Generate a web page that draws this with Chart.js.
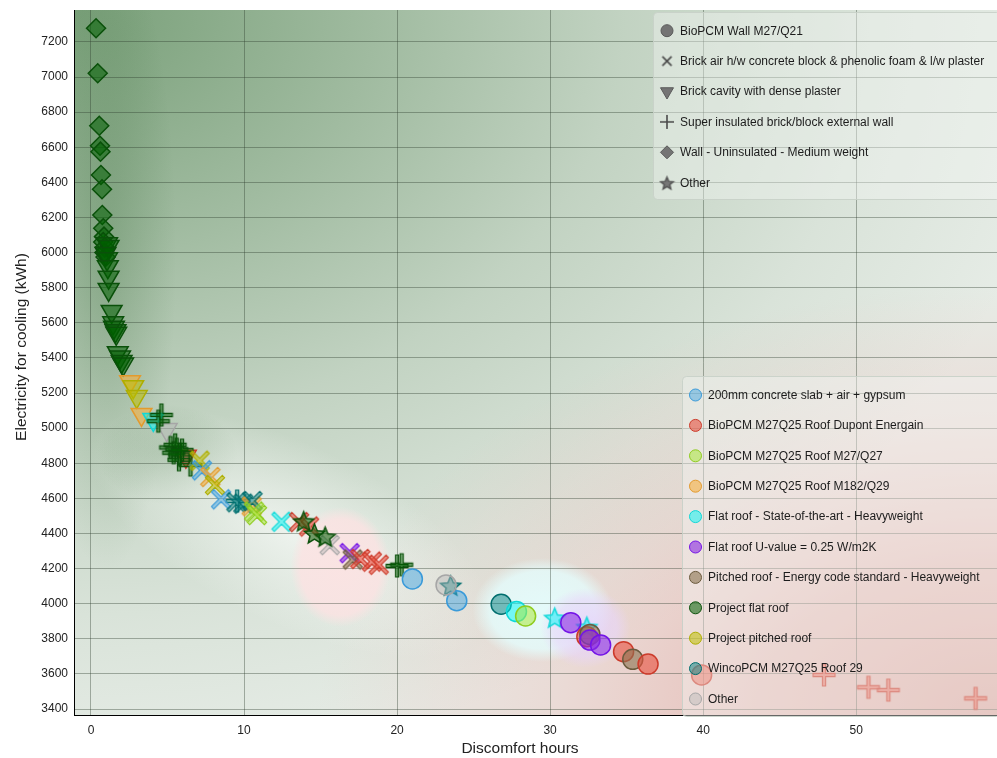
<!DOCTYPE html>
<html>
<head>
<meta charset="utf-8">
<script src="https://cdn.jsdelivr.net/npm/chart.js@4.4.1/dist/chart.umd.min.js"></script>
<style>
  html, body { margin: 0; padding: 0; background: #fff; }
  canvas { display: block; }
</style>
</head>
<body>
<canvas id="chart" width="997" height="758"></canvas>
<script>
// colour = roof construction
const roofTypes = [
  '200mm concrete slab + air + gypsum',
  'BioPCM M27Q25 Roof Dupont Energain',
  'BioPCM M27Q25 Roof M27/Q27',
  'BioPCM M27Q25 Roof M182/Q29',
  'Flat roof - State-of-the-art - Heavyweight',
  'Flat roof U-value = 0.25 W/m2K',
  'Pitched roof - Energy code standard - Heavyweight',
  'Project flat roof',
  'Project pitched roof',
  'WincoPCM M27Q25 Roof 29',
  'Other'
];
const roofColors = [
  ['#3a9ad9', 'rgba(70,165,225,0.5)'],
  ['#cc3b2b', 'rgba(232,80,62,0.6)'],
  ['#8fcc1f', 'rgba(170,232,60,0.55)'],
  ['#e39a2d', 'rgba(245,175,65,0.6)'],
  ['#10d8d8', 'rgba(0,245,245,0.5)'],
  ['#7414e6', 'rgba(138,43,226,0.6)'],
  ['#6b5b3e', 'rgba(139,115,80,0.6)'],
  ['#0a500a', 'rgba(0,95,0,0.55)'],
  ['#aeae00', 'rgba(190,190,0,0.55)'],
  ['#006e6e', 'rgba(0,125,125,0.5)'],
  ['#a6a6a6', 'rgba(185,185,185,0.45)']
];

// shape = wall construction
const wallTypes = [
  'BioPCM Wall M27/Q21',
  'Brick air h/w concrete block & phenolic foam & l/w plaster',
  'Brick cavity with dense plaster',
  'Super insulated brick/block external wall',
  'Wall - Uninsulated - Medium weight',
  'Other'
];

const xTicks = [0, 10, 20, 30, 40, 50];
const yTicks = [3400, 3600, 3800, 4000, 4200, 4400, 4600, 4800, 5000, 5200,
  5400, 5600, 5800, 6000, 6200, 6400, 6600, 6800, 7000, 7200];

// rows: [discomfort hours, electricity for cooling kWh, roof index]
const bioWall = [
  [21.0, 4141, 0], [23.9, 4017, 0], [23.2, 4107, 10], [26.8, 3997, 9],
  [27.8, 3955, 4], [28.4, 3930, 2], [31.35, 3892, 5], [32.4, 3812, 1],
  [32.6, 3825, 6], [32.6, 3793, 5], [33.3, 3765, 5], [34.8, 3727, 1],
  [35.4, 3683, 6], [36.4, 3656, 1], [39.9, 3594, 1]
];
const brickAir = [
  [7.1, 4815, 8], [7.25, 4760, 0], [7.8, 4722, 3], [8.1, 4676, 8],
  [8.5, 4595, 0], [9.5, 4578, 9], [9.95, 4570, 9], [10.5, 4555, 3],
  [10.55, 4585, 9], [10.65, 4525, 2], [10.85, 4505, 2], [12.45, 4467, 4],
  [13.6, 4465, 1], [14.25, 4440, 1], [15.6, 4334, 10], [16.9, 4288, 5],
  [17.1, 4252, 6], [17.6, 4255, 1], [18.35, 4240, 1], [18.8, 4222, 1]
];
const brickCavity = [
  [1.05, 6050, 7], [1.15, 6035, 7], [0.95, 5995, 7], [1.05, 5965, 7],
  [1.1, 5920, 7], [1.15, 5860, 7], [1.15, 5790, 7], [1.35, 5665, 7],
  [1.45, 5600, 7], [1.5, 5575, 7], [1.6, 5555, 7], [1.65, 5540, 7],
  [1.75, 5430, 7], [1.9, 5405, 7], [2.0, 5380, 7], [2.1, 5365, 7],
  [2.55, 5265, 3], [2.76, 5236, 8], [2.99, 5180, 8], [3.3, 5078, 3],
  [4.07, 5050, 4], [4.95, 4992, 10], [6.2, 4840, 1]
];
const superInsulated = [
  [4.4, 5040, 7], [4.6, 5075, 7], [5.2, 4890, 7], [5.4, 4860, 7],
  [5.5, 4905, 7], [5.6, 4880, 7], [5.75, 4820, 7], [5.8, 4850, 7],
  [5.95, 4875, 7], [6.5, 4790, 7], [9.55, 4585, 9], [20.0, 4215, 7],
  [20.3, 4222, 7], [47.9, 3594, 1], [50.8, 3524, 1], [52.1, 3508, 1],
  [57.8, 3461, 1]
];
const uninsulated = [
  [0.33, 7278, 7], [0.44, 7022, 7], [0.54, 6723, 7], [0.59, 6609, 7],
  [0.62, 6575, 7], [0.65, 6442, 7], [0.72, 6361, 7], [0.74, 6214, 7],
  [0.80, 6139, 7], [0.85, 6091, 7], [0.80, 6060, 7], [0.90, 6030, 7],
  [0.88, 6000, 7], [0.95, 5975, 7]
];
const otherWall = [
  [13.9, 4470, 7], [14.6, 4400, 7], [15.3, 4382, 7], [23.5, 4103, 9],
  [30.3, 3920, 4], [32.4, 3868, 4]
];

const FONT = '"Liberation Sans", Arial, sans-serif';
const TITLE_FONT = '15.5px ' + FONT;

function starCanvas(fill, stroke, r) {
  const s = Math.ceil(r * 2 + 4);
  const c = document.createElement('canvas');
  c.width = c.height = s;
  const g = c.getContext('2d');
  g.translate(s / 2, s / 2 + 1);
  g.beginPath();
  for (let i = 0; i < 10; i++) {
    const a = -Math.PI / 2 + i * Math.PI / 5;
    const rr = i % 2 ? r * 0.45 : r;
    g.lineTo(Math.cos(a) * rr, Math.sin(a) * rr);
  }
  g.closePath();
  g.fillStyle = fill; g.fill();
  g.lineWidth = 1.5; g.strokeStyle = stroke; g.stroke();
  return c;
}

function crossCanvas(fill, stroke, r, rotated, w) {
  const s = Math.ceil(r * 2 + 4);
  const c = document.createElement('canvas');
  c.width = c.height = s;
  const g = c.getContext('2d');
  g.translate(s / 2, s / 2);
  if (rotated) g.rotate(Math.PI / 4);
  const pts = [[-w, -r], [w, -r], [w, -w], [r, -w], [r, w], [w, w], [w, r], [-w, r], [-w, w], [-r, w], [-r, -w], [-w, -w]];
  g.beginPath();
  pts.forEach(p => g.lineTo(p[0], p[1]));
  g.closePath();
  g.fillStyle = fill; g.fill();
  g.lineWidth = 1.1; g.strokeStyle = stroke; g.stroke();
  return c;
}

function lineCross(color, r, rotated) {
  const s = Math.ceil(r * 2 + 4);
  const c = document.createElement('canvas');
  c.width = c.height = s;
  const g = c.getContext('2d');
  g.translate(s / 2, s / 2);
  if (rotated) g.rotate(Math.PI / 4);
  g.beginPath();
  g.moveTo(-r, 0); g.lineTo(r, 0); g.moveTo(0, -r); g.lineTo(0, r);
  g.lineWidth = 1.6; g.strokeStyle = color; g.stroke();
  return c;
}

const stars = roofColors.map(c => starCanvas(c[1], c[0], 10.5));
const xMarks = roofColors.map(c => crossCanvas(c[1], c[0], 12, true, 1.6));
const plusMarks = roofColors.map(c => crossCanvas(c[1], c[0], 11, false, 1.6));

function makeDataset(label, rows, shape, radius) {
  const styleFor = roof => {
    if (shape === 'star') return stars[roof];
    if (shape === 'x') return xMarks[roof];
    if (shape === 'plus') return plusMarks[roof];
    return shape;
  };
  return {
    label: label,
    data: rows.map(r => ({ x: r[0], y: r[1], roof: r[2] })),
    pointStyle: ctx => ctx.raw ? styleFor(ctx.raw.roof) : 'circle',
    pointRotation: shape === 'triangle' ? 180 : 0,
    pointRadius: radius,
    pointBorderWidth: 1.5,
    pointBackgroundColor: ctx => ctx.raw ? roofColors[ctx.raw.roof][1] : '#888',
    pointBorderColor: ctx => ctx.raw ? roofColors[ctx.raw.roof][0] : '#555'
  };
}

function blob(ctx, cx, cy, rx, ry, stops, rot) {
  ctx.save();
  ctx.translate(cx, cy);
  if (rot) ctx.rotate(rot);
  ctx.scale(1, ry / rx);
  const g = ctx.createRadialGradient(0, 0, 0, 0, 0, rx);
  stops.forEach(s => g.addColorStop(s[0], s[1]));
  ctx.fillStyle = g;
  ctx.fillRect(-rx, -rx, rx * 2, rx * 2);
  ctx.restore();
}

const backdrop = {
  id: 'backdrop',
  beforeDraw(chart) {
    const { ctx, chartArea: a, scales: { x, y } } = chart;
    ctx.save();
    ctx.beginPath();
    ctx.rect(a.left, a.top, a.width, a.height);
    ctx.clip();
    ctx.fillStyle = '#e6ece6';
    ctx.fillRect(a.left, a.top, a.width, a.height);
    // green density, upper left
    blob(ctx, a.left, a.top, 1000, 760, [
      [0, 'rgba(90,138,90,0.78)'], [0.3, 'rgba(90,138,90,0.5)'],
      [0.55, 'rgba(90,138,90,0.26)'], [0.8, 'rgba(90,138,90,0.09)'], [1, 'rgba(90,138,90,0)']
    ]);
    blob(ctx, x.getPixelForValue(1), y.getPixelForValue(6000), 70, 320, [
      [0, 'rgba(60,110,60,0.3)'], [1, 'rgba(60,110,60,0)']
    ]);
    blob(ctx, x.getPixelForValue(5), y.getPixelForValue(4850), 70, 50, [
      [0, 'rgba(70,120,70,0.3)'], [1, 'rgba(70,120,70,0)']
    ]);
    // light band along the curve
    blob(ctx, x.getPixelForValue(13), y.getPixelForValue(4400), 220, 90, [
      [0, 'rgba(246,249,246,0.75)'], [1, 'rgba(246,249,246,0)']
    ], 0.45);
    // red density, lower right
    blob(ctx, a.right, a.bottom, 680, 430, [
      [0, 'rgba(215,120,112,0.58)'], [0.35, 'rgba(230,130,125,0.42)'],
      [0.65, 'rgba(250,150,150,0.2)'], [1, 'rgba(255,160,160,0)']
    ]);
    blob(ctx, x.getPixelForValue(16.3), y.getPixelForValue(4209), 50, 60, [
      [0, 'rgba(252,226,226,0.9)'], [0.8, 'rgba(252,226,226,0.8)'], [1, 'rgba(252,226,226,0)']
    ]);
    blob(ctx, x.getPixelForValue(29.5), y.getPixelForValue(3964), 70, 52, [
      [0, 'rgba(228,252,252,0.95)'], [0.75, 'rgba(228,252,252,0.8)'], [1, 'rgba(228,252,252,0)']
    ]);
    blob(ctx, x.getPixelForValue(32.3), y.getPixelForValue(3862), 45, 40, [
      [0, 'rgba(230,210,252,0.85)'], [0.7, 'rgba(232,214,250,0.6)'], [1, 'rgba(232,214,250,0)']
    ]);
    ctx.restore();
  }
};

function legendBox(ctx, left, top, right, bottom) {
  ctx.save();
  ctx.beginPath();
  ctx.roundRect(left + 0.5, top + 0.5, right - left, bottom - top, 4);
  ctx.fillStyle = 'rgba(242,246,242,0.42)';
  ctx.fill();
  ctx.strokeStyle = 'rgba(200,208,200,0.9)';
  ctx.lineWidth = 1;
  ctx.stroke();
  ctx.restore();
}

const legends = {
  id: 'legends',
  afterDatasetsDraw(chart) {
    const ctx = chart.ctx;
    const H = Chart.helpers;
    // wall legend
    legendBox(ctx, 653, 12, 1000, 199);
    const shapes = [
      { pointStyle: 'circle', radius: 6, rotation: 0 },
      { pointStyle: lineCross('#4a4a4a', 6.5, true), radius: 6, rotation: 0 },
      { pointStyle: 'triangle', radius: 7.5, rotation: 180 },
      { pointStyle: lineCross('#4a4a4a', 7, false), radius: 6, rotation: 0 },
      { pointStyle: 'rectRot', radius: 6.5, rotation: 0 },
      { pointStyle: starCanvas('#777', '#555', 6.5), radius: 6, rotation: 0 }
    ];
    ctx.save();
    ctx.font = '12px ' + FONT;
    ctx.textBaseline = 'middle';
    wallTypes.forEach((name, i) => {
      const cy = 30.7 + i * 30.4;
      ctx.fillStyle = '#747474';
      ctx.strokeStyle = '#5a5a5a';
      H.drawPoint(ctx, Object.assign({ borderWidth: 1 }, shapes[i]), 667, cy);
      ctx.fillStyle = '#1c1c1c';
      ctx.fillText(name, 680, cy + 0.5);
    });
    // roof legend
    legendBox(ctx, 682, 376, 1000, 716);
    roofTypes.forEach((name, i) => {
      const cy = 395 + i * 30.4;
      ctx.fillStyle = roofColors[i][1];
      ctx.strokeStyle = roofColors[i][0];
      H.drawPoint(ctx, { pointStyle: 'circle', radius: 6, borderWidth: 1.5, rotation: 0 }, 695.5, cy);
      ctx.fillStyle = '#1c1c1c';
      ctx.fillText(name, 708, cy + 0.5);
    });
    ctx.restore();
  },
  afterDraw(chart) {
    // axis titles, placed where the original has them
    const ctx = chart.ctx;
    ctx.save();
    ctx.font = TITLE_FONT;
    ctx.fillStyle = '#222';
    ctx.textAlign = 'center';
    ctx.textBaseline = 'middle';
    ctx.fillText('Discomfort hours', 520, 749);
    ctx.translate(22, 347);
    ctx.rotate(-Math.PI / 2);
    ctx.fillText('Electricity for cooling (kWh)', 0, 0);
    ctx.restore();
  }
};

const gridColor = 'rgba(45,60,45,0.38)';
const noPad = s => { s.paddingLeft = 0; s.paddingRight = 0; s.paddingTop = 0; s.paddingBottom = 0; };

new Chart(document.getElementById('chart'), {
  type: 'scatter',
  data: {
    datasets: [
      makeDataset(wallTypes[0], bioWall, 'circle', 10),
      makeDataset(wallTypes[5], otherWall, 'star', 10),
      makeDataset(wallTypes[1], brickAir, 'x', 9),
      makeDataset(wallTypes[3], superInsulated, 'plus', 10),
      makeDataset(wallTypes[2], brickCavity, 'triangle', 12),
      makeDataset(wallTypes[4], uninsulated, 'rectRot', 9.5)
    ]
  },
  options: {
    responsive: false,
    animation: false,
    layout: { autoPadding: false, padding: { top: 10, right: 0, left: 0, bottom: 0 } },
    plugins: { legend: { display: false }, tooltip: { enabled: false } },
    scales: {
      x: {
        type: 'linear', min: -1.11, max: 59.2,
        afterBuildTicks: s => { s.ticks = xTicks.map(v => ({ value: v })); },
        afterFit: s => { s.height = 43; noPad(s); },
        grid: { color: gridColor, drawTicks: false },
        border: { color: '#000', width: 1 },
        ticks: { padding: 8, color: '#222', font: { family: FONT, size: 12 }, callback: v => String(v) }
      },
      y: {
        type: 'linear', min: 3366, max: 7382,
        afterBuildTicks: s => { s.ticks = yTicks.map(v => ({ value: v })); },
        afterFit: s => { s.width = 74; noPad(s); },
        grid: { color: gridColor, drawTicks: false },
        border: { color: '#000', width: 1 },
        ticks: { padding: 6, color: '#222', font: { family: FONT, size: 12 }, callback: v => String(v) }
      }
    }
  },
  plugins: [backdrop, legends]
});
</script>
</body>
</html>
